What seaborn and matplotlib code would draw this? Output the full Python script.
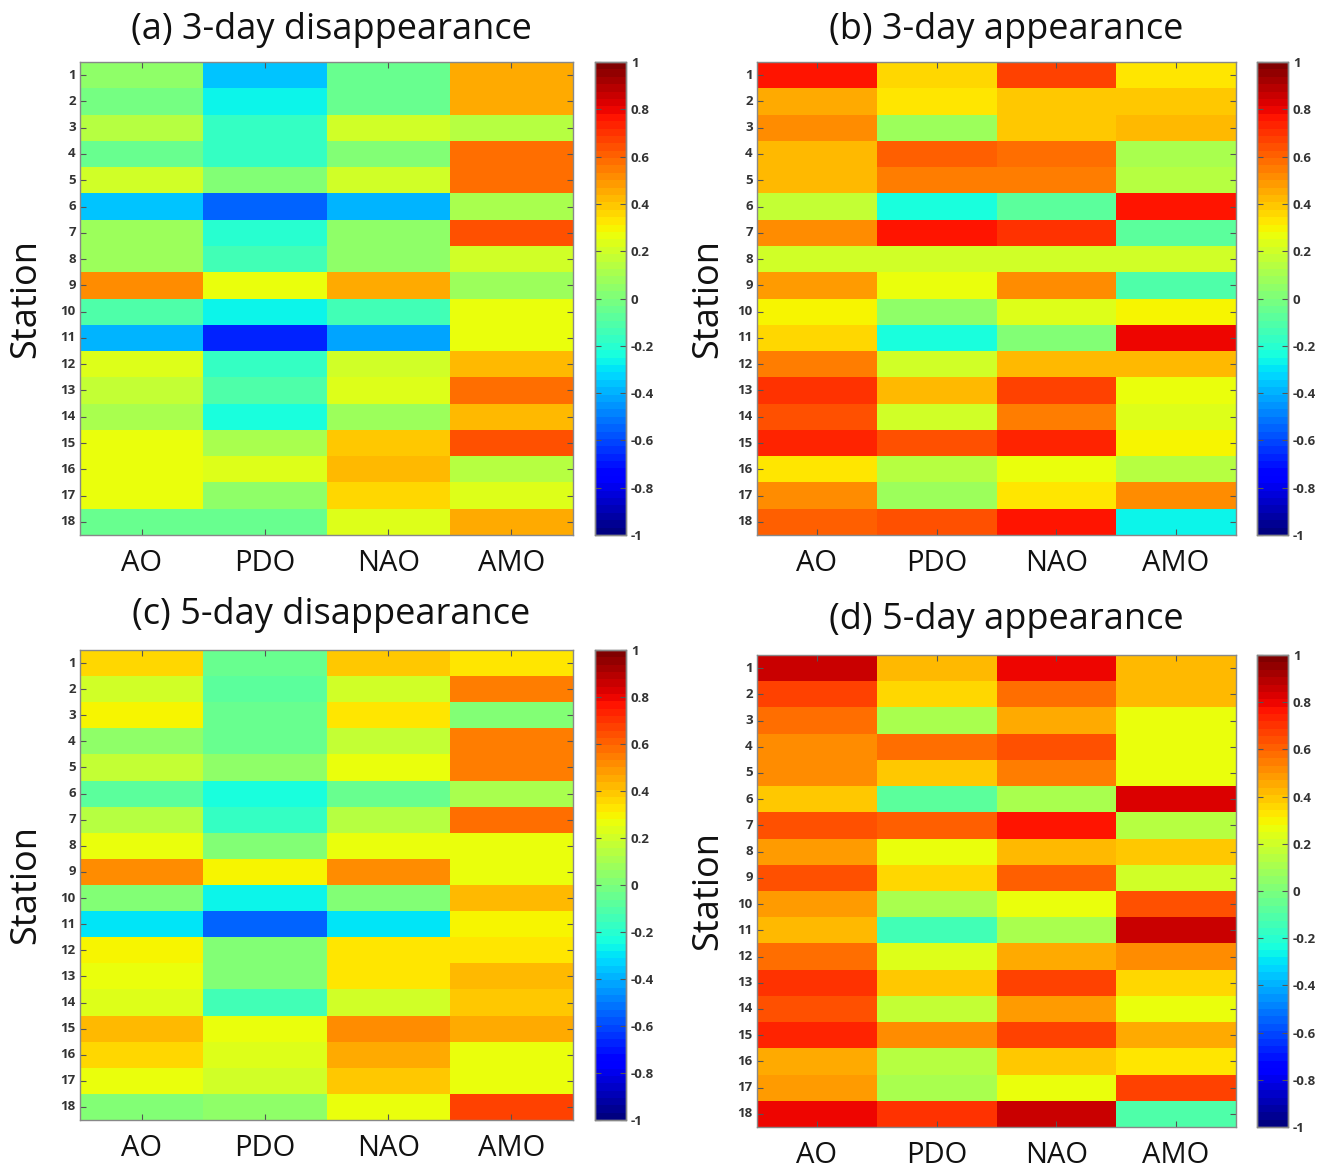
import numpy as np
import pandas as pd
import matplotlib
matplotlib.use("Agg")
import matplotlib.pyplot as plt
import seaborn as sns

indices = ["AO", "PDO", "NAO", "AMO"]
stations = [str(i) for i in range(1, 19)]

# (a) 3-day disappearance: columns AO, PDO, NAO, AMO
a_AO  = [0.05, -0.02, 0.13, -0.05, 0.20, -0.36, 0.07, 0.07, 0.52, -0.11, -0.39, 0.23, 0.17, 0.10, 0.28, 0.28, 0.27, -0.05]
a_PDO = [-0.35, -0.27, -0.18, -0.18, 0.01, -0.55, -0.21, -0.15, 0.28, -0.28, -0.67, -0.18, -0.11, -0.25, 0.10, 0.23, 0.04, -0.05]
a_NAO = [-0.05, -0.05, 0.21, 0.01, 0.20, -0.40, 0.04, 0.04, 0.45, -0.14, -0.41, 0.20, 0.23, 0.07, 0.39, 0.42, 0.36, 0.23]
a_AMO = [0.44, 0.44, 0.13, 0.59, 0.57, 0.10, 0.63, 0.21, 0.07, 0.28, 0.26, 0.42, 0.59, 0.42, 0.63, 0.13, 0.23, 0.45]

# (b) 3-day appearance
b_AO  = [0.77, 0.44, 0.52, 0.43, 0.43, 0.17, 0.50, 0.21, 0.47, 0.31, 0.35, 0.55, 0.71, 0.63, 0.74, 0.33, 0.52, 0.60]
b_PDO = [0.36, 0.32, 0.07, 0.61, 0.55, -0.24, 0.77, 0.21, 0.27, 0.04, -0.25, 0.21, 0.42, 0.20, 0.63, 0.13, 0.07, 0.65]
b_NAO = [0.68, 0.39, 0.38, 0.58, 0.55, -0.08, 0.71, 0.21, 0.52, 0.23, 0.01, 0.42, 0.66, 0.55, 0.74, 0.28, 0.33, 0.77]
b_AMO = [0.33, 0.39, 0.43, 0.10, 0.13, 0.77, -0.08, 0.21, -0.11, 0.31, 0.80, 0.42, 0.27, 0.23, 0.31, 0.13, 0.52, -0.27]

# (c) 5-day disappearance
c_AO  = [0.36, 0.21, 0.30, 0.05, 0.18, -0.08, 0.15, 0.28, 0.50, 0.01, -0.31, 0.30, 0.27, 0.23, 0.42, 0.36, 0.27, 0.01]
c_PDO = [-0.05, -0.08, -0.04, -0.05, 0.04, -0.25, -0.18, 0.01, 0.30, -0.27, -0.56, 0.01, 0.01, -0.13, 0.27, 0.23, 0.21, 0.04]
c_NAO = [0.39, 0.21, 0.33, 0.17, 0.27, -0.06, 0.15, 0.28, 0.50, 0.01, -0.31, 0.33, 0.32, 0.21, 0.52, 0.45, 0.39, 0.25]
c_AMO = [0.33, 0.55, 0.01, 0.55, 0.55, 0.10, 0.59, 0.25, 0.25, 0.42, 0.29, 0.32, 0.42, 0.39, 0.45, 0.25, 0.28, 0.66]

# (d) 5-day appearance
d_AO  = [0.85, 0.66, 0.59, 0.52, 0.50, 0.39, 0.63, 0.49, 0.63, 0.49, 0.42, 0.58, 0.71, 0.63, 0.74, 0.44, 0.49, 0.79]
d_PDO = [0.43, 0.36, 0.10, 0.59, 0.38, -0.08, 0.62, 0.28, 0.36, 0.10, -0.14, 0.23, 0.40, 0.17, 0.50, 0.13, 0.12, 0.71]
d_NAO = [0.79, 0.59, 0.44, 0.63, 0.54, 0.10, 0.76, 0.42, 0.62, 0.28, 0.10, 0.45, 0.66, 0.49, 0.68, 0.40, 0.28, 0.85]
d_AMO = [0.42, 0.42, 0.28, 0.28, 0.28, 0.83, 0.13, 0.40, 0.20, 0.65, 0.85, 0.50, 0.36, 0.28, 0.44, 0.33, 0.66, -0.11]

titles = ["(a) 3-day disappearance", "(b) 3-day appearance",
          "(c) 5-day disappearance", "(d) 5-day appearance"]
panels = [
    [a_AO, a_PDO, a_NAO, a_AMO],
    [b_AO, b_PDO, b_NAO, b_AMO],
    [c_AO, c_PDO, c_NAO, c_AMO],
    [d_AO, d_PDO, d_NAO, d_AMO],
]
cbar_ticks = [-1, -0.8, -0.6, -0.4, -0.2, 0, 0.2, 0.4, 0.6, 0.8, 1]

W, H = 1321, 1168
fig = plt.figure(figsize=(W / 100, H / 100), dpi=100)
plt.rcParams['font.family'] = ['Open Sans', 'DejaVu Sans']

def fx(px):
    return px / W

def fy(py):
    return 1 - py / H

# pixel boxes: (left, top, right, bottom)
heat_boxes = [(80, 62, 573, 535), (757, 62, 1236, 535),
              (80, 650, 573, 1120), (757, 655, 1236, 1127)]
cbar_x = [(595, 626), (1257, 1288), (595, 626), (1257, 1288)]
title_pos = [(331, 30), (1006, 30), (331, 615), (1006, 620)]
station_x = [26, 708, 26, 708]

cmap = plt.get_cmap('jet', 64)

for k in range(4):
    l, t, r, b = heat_boxes[k]
    ax = fig.add_axes([fx(l), fy(b), fx(r - l), (b - t) / H])
    cl, cr = cbar_x[k]
    cax = fig.add_axes([fx(cl), fy(b), fx(cr - cl), (b - t) / H])
    df = pd.DataFrame(dict(zip(indices, panels[k])), index=stations)
    sns.heatmap(df, ax=ax, cmap=cmap, vmin=-1, vmax=1, cbar=True, cbar_ax=cax,
                cbar_kws={'ticks': cbar_ticks})
    for s in ax.spines.values():
        s.set_visible(True)
        s.set_color('#888888')
        s.set_linewidth(1.0)
    ax.tick_params(axis='both', direction='in', top=True, right=True,
                   length=4, color='#555555')
    ax.tick_params(axis='x', labelsize=21, pad=10)
    ax.tick_params(axis='y', labelsize=9.5, pad=3)
    ax.set_yticklabels(stations, rotation=0, fontweight='bold', color='#333333')
    ax.set_xticklabels(indices, rotation=0, color='#111111')
    ax.set_xlabel('')
    ax.set_ylabel('')
    # colorbar styling
    cax.tick_params(direction='in', left=True, right=True, length=4,
                    labelsize=9.5, color='#555555', labelcolor='#333333')
    cax.set_yticklabels([('%g' % v) for v in cbar_ticks], fontweight='bold')
    for s in cax.spines.values():
        s.set_visible(True)
        s.set_color('#888888')
        s.set_linewidth(1.0)
    tx, ty = title_pos[k]
    fig.text(fx(tx), fy(ty), titles[k], ha='center', va='center', fontsize=26,
             color='#111111')
    fig.text(fx(station_x[k]), fy((t + b) / 2), 'Station', rotation=90,
             ha='center', va='center', fontsize=26, color='#111111')

fig.savefig('out.png', dpi=100, facecolor='white')
